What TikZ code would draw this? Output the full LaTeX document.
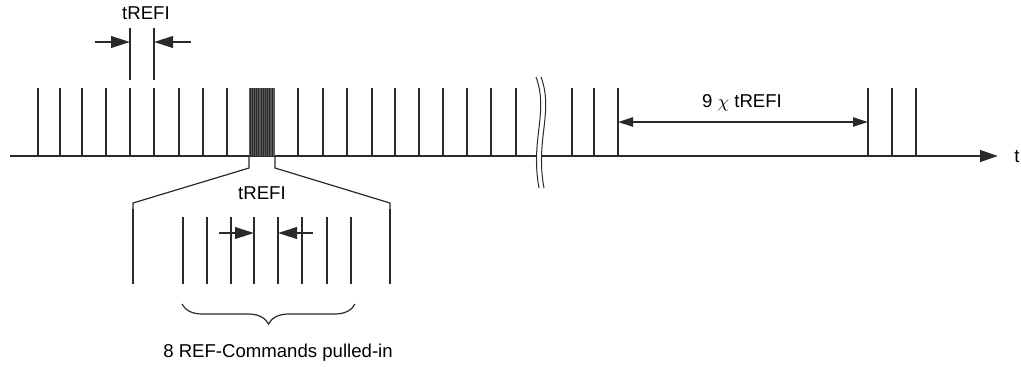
\documentclass[tikz,border=0pt]{standalone}
\usepackage{fontspec}
\setmainfont{Liberation Sans}
\usetikzlibrary{arrows.meta, positioning, decorations.pathreplacing, calc}
\definecolor{mGray}{HTML}{5A5A5A}
\definecolor{mInk}{HTML}{2A2A2A}

\begin{document}
\begin{tikzpicture}[x=0.5pt, y=-0.5pt, draw=mInk,
      tck/.style={line width=0.65pt},
      bold/.style={line width=1.3pt},
      dim/.style={line width=1pt, -{Triangle[length=9.5pt, width=5.8pt]}},
      lbl/.style={inner sep=0pt, font=\fontsize{9.3}{11}\selectfont}]
    \useasboundingbox (0,0) rectangle (1021,366);
    % time axis
    \coordinate (t0) at (10,156);
    \coordinate (tend) at (998,156);
    \draw[bold, -{Triangle[length=9pt, width=5.8pt]}] (t0) -- (tend);
    \node[lbl] (t) at (1017,157) {t};
    \foreach \x in {38,60,82,106,130,154,179,203,227,298,323,347,372,395,
                    419,443,467,491,516,572,594,618,868,892,916}
      \draw[tck] (\x,88) -- (\x,156);
    % pulled-in burst
    \fill[mGray] (249,88) rectangle (275,156);
    \foreach \x in {250,252.2,...,274}
      \draw[line width=0.45pt] (\x,88) -- (\x,156);
    % break
    \fill[white] (536,77) .. controls (549,112) and (530,140) .. (539,188)
      -- (544,188) .. controls (535,140) and (554,112) .. (541,77) -- cycle;
    \draw[line width=0.5pt] (536,77) .. controls (549,112) and (530,140) .. (539,188);
    \draw[line width=0.5pt] (541,77) .. controls (554,112) and (535,140) .. (544,188);
    % tREFI on the axis
    \draw[tck] (130,28) -- (130,80);
    \draw[tck] (154,28) -- (154,80);
    \coordinate (aL) at (95,42);  \coordinate (aLe) at (130,42);
    \coordinate (aR) at (191,42); \coordinate (aRe) at (154,42);
    \draw[dim] (aL) -- (aLe);
    \draw[dim] (aR) -- (aRe);
    \node[lbl] (tref1) at (146,13) {tREFI};
    % 9 x tREFI
    \coordinate (gL) at (618,122); \coordinate (gR) at (868,122);
    \draw[line width=0.9pt, {Triangle[length=7.5pt, width=4.6pt]}-{Triangle[length=7.5pt, width=4.6pt]}] (gL) -- (gR);
    \node[lbl] (gap) at (742,103) {9 $\chi$ tREFI};
    % zoomed view
    \draw[line width=0.6pt] (249,156) -- (249,168) -- (133,203) -- (133,209);
    \draw[line width=0.6pt] (275,156) -- (275,168) -- (390,203) -- (390,209);
    \draw[line width=1.2pt] (133,209) -- (133,284);
    \draw[line width=1.2pt] (390,209) -- (390,284);
    \foreach \x in {183,207,231,254,278,302,327,351}
      \draw[tck] (\x,217) -- (\x,284);
    \coordinate (bL) at (219,233); \coordinate (bLe) at (254,233);
    \coordinate (bR) at (313,233); \coordinate (bRe) at (278,233);
    \draw[dim] (bL) -- (bLe);
    \draw[dim] (bR) -- (bRe);
    \node[lbl] (tref2) at (262,193) {tREFI};
    \draw[line width=0.6pt, decorate, decoration={brace, mirror, amplitude=10pt}]
      (182,304) -- (355,304);
    \node[lbl] (pulled) at (278,353) {8 REF-Commands pulled-in};
  \end{tikzpicture}
\end{document}
